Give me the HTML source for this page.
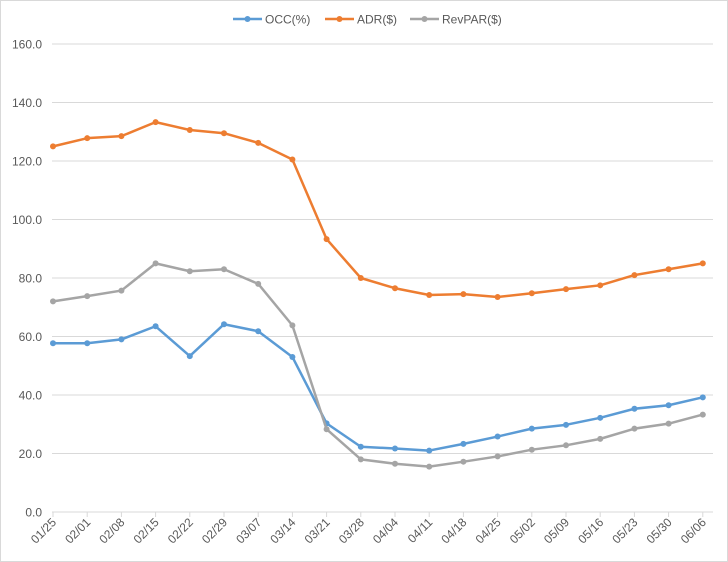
<!DOCTYPE html><html><head><meta charset="utf-8"><style>body{margin:0;background:#fff}svg{display:block;font-family:"Liberation Sans","DejaVu Sans",sans-serif}</style></head><body>
<svg id="s" width="728" height="562" xmlns="http://www.w3.org/2000/svg">
<rect x="0.5" y="0.5" width="727" height="561" fill="#fff" stroke="#d9d9d9"/>
</svg>
<script>
var s=document.getElementById('s'),ns='http://www.w3.org/2000/svg',h='';
function Y(v){return 512-v*2.925}function X(i){return 53+i*34.2}
for(var v=0;v<=160;v+=20){var y=Y(v);h+='<line x1="52" x2="713" y1="'+y+'" y2="'+y+'" stroke="#d9d9d9"/>';h+='<text x="42" y="'+(y+4.5)+'" text-anchor="end" font-size="12" fill="#595959">'+v.toFixed(1)+'</text>';}
var L=['01/25','02/01','02/08','02/15','02/22','02/29','03/07','03/14','03/21','03/28','04/04','04/11','04/18','04/25','05/02','05/09','05/16','05/23','05/30','06/06'];
for(var i=0;i<20;i++){var x=X(i);h+='<line x1="'+x+'" x2="'+x+'" y1="512" y2="517" stroke="#d9d9d9"/>';h+='<text transform="translate('+(x+4)+',523) rotate(-45)" text-anchor="end" font-size="12" fill="#595959">'+L[i]+'</text>';}
var D=[['#5b9bd5',[57.7,57.7,59,63.5,53.3,64.2,61.8,53,30.3,22.3,21.7,21,23.3,25.8,28.5,29.8,32.2,35.3,36.5,39.2]],
['#ed7d31',[125,127.8,128.5,133.3,130.6,129.5,126.2,120.5,93.3,80,76.5,74.2,74.5,73.5,74.8,76.2,77.5,81,83,85]],
['#a5a5a5',[72,73.8,75.7,85,82.3,83,78,63.8,28.3,18,16.5,15.5,17.2,19,21.3,22.8,25,28.5,30.2,33.3]]];
D.forEach(function(d){var p=d[1].map(function(v,i){return X(i)+','+Y(v)}).join(' ');h+='<polyline points="'+p+'" fill="none" stroke="'+d[0]+'" stroke-width="2.5" stroke-linejoin="round"/>';d[1].forEach(function(v,i){h+='<circle cx="'+X(i)+'" cy="'+Y(v)+'" r="3" fill="'+d[0]+'"/>'})});
var lg=[['#5b9bd5','OCC(%)',233],['#ed7d31','ADR($)',325],['#a5a5a5','RevPAR($)',410]];
lg.forEach(function(l){h+='<line x1="'+l[2]+'" x2="'+(l[2]+29)+'" y1="19" y2="19" stroke="'+l[0]+'" stroke-width="2.5"/><circle cx="'+(l[2]+14.5)+'" cy="19" r="3" fill="'+l[0]+'"/><text x="'+(l[2]+32)+'" y="23.5" font-size="12" fill="#595959">'+l[1]+'</text>'});
s.insertAdjacentHTML('beforeend',h);
</script></body></html>
